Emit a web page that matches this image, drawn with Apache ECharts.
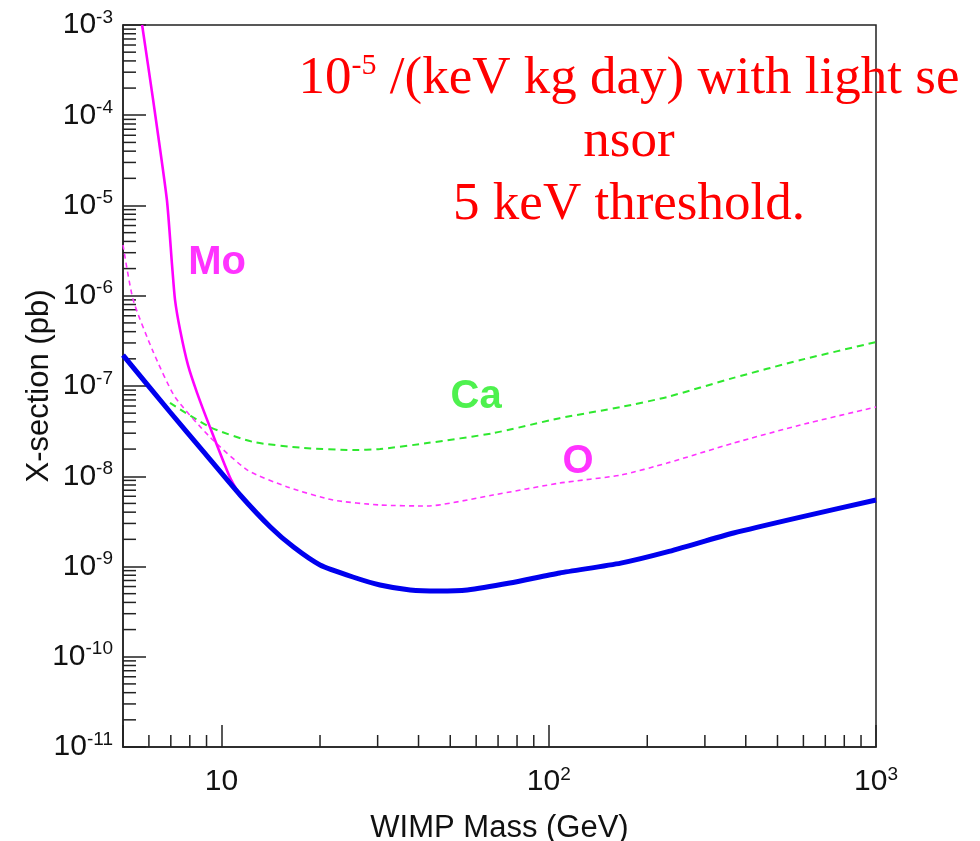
<!DOCTYPE html>
<html>
<head>
<meta charset="utf-8">
<script src="https://cdn.jsdelivr.net/npm/echarts@6/dist/echarts.min.js"></script>
<style>html,body{margin:0;padding:0;background:#fff}#c{width:980px;height:841px}</style>
</head>
<body>
<div id="c"></div>
<script>
// ---- data (WIMP mass in GeV, cross-section in pb) ----
const combinedMass = [5, 6.96, 8.78, 11.4, 14.1, 16.6, 20, 25.2, 30.5, 37.7, 46, 56.4, 76, 108, 166, 230, 367, 588, 1000];
const combinedXsec = [2.2e-7, 5.15e-8, 1.9e-8, 6.2e-9, 2.74e-9, 1.64e-9, 1.04e-9, 7.65e-10, 6.24e-10, 5.5e-10, 5.35e-10, 5.5e-10, 6.56e-10, 8.47e-10, 1.09e-9, 1.45e-9, 2.35e-9, 3.53e-9, 5.45e-9];

const moMass = [5.72, 6.18, 6.81, 7.06, 7.21, 7.47, 7.9, 8.42, 9.22, 10.6, 11.4, 14.1, 16.6, 20, 25.2, 30.5, 37.7, 46, 56.4, 76, 108, 166, 230, 367, 588, 1000];
const moXsec = [1e-3, 1.48e-4, 1.15e-5, 2.2e-6, 9e-7, 4.2e-7, 1.7e-7, 8.4e-8, 3.5e-8, 9.8e-9, 6.2e-9, 2.74e-9, 1.64e-9, 1.04e-9, 7.65e-10, 6.24e-10, 5.5e-10, 5.35e-10, 5.5e-10, 6.56e-10, 8.47e-10, 1.09e-9, 1.45e-9, 2.35e-9, 3.53e-9, 5.45e-9];

const oMass = [5, 5.37, 6.18, 7.21, 9.22, 12, 15.9, 21.9, 30.5, 42.5, 67.6, 108, 166, 230, 367, 588, 1000];
const oXsec = [3.65e-6, 9e-7, 2.4e-7, 7.55e-8, 2.72e-8, 1.17e-8, 7.6e-9, 5.45e-9, 4.8e-9, 4.68e-9, 6.2e-9, 8.4e-9, 1.03e-8, 1.4e-8, 2.33e-8, 3.7e-8, 5.85e-8];

const caMass = [6.96, 9.22, 12.5, 17.8, 25.2, 30.5, 42.5, 67.6, 108, 166, 230, 367, 588, 1000];
const caXsec = [6.5e-8, 3.5e-8, 2.4e-8, 2.06e-8, 1.95e-8, 2.0e-8, 2.33e-8, 3.0e-8, 4.4e-8, 5.85e-8, 7.55e-8, 1.23e-7, 1.94e-7, 3.07e-7];

// curve labels: [mass, xsec, text]
const curveLabels = [[9.7, 2.31e-6, 'Mo'], [60, 7.55e-8, 'Ca'], [123, 1.44e-8, 'O']];
const curveLabelColors = ['#ff00ff', '#22ee22', '#ff00ff'];

// axes
const xMin = 5, xMax = 1000;
const yMin = 1e-11, yMax = 1e-3;
const minorMultipliers = [2, 3, 4, 5, 6, 7, 8, 9];
const xMinorDecades = [1, 10, 100];
const yMinorDecades = [1e-11, 1e-10, 1e-9, 1e-8, 1e-7, 1e-6, 1e-5, 1e-4];

const xTitle = 'WIMP Mass (GeV)';
const yTitle = 'X-section (pb)';
const noteLine1 = ['10', '-5', ' /(keV kg day) with light se'];
const noteLine2 = 'nsor';
const noteLine3 = '5 keV threshold.';

// ---- build ----
const zip = (a, b) => a.map((v, i) => [v, b[i]]);
const xMinorVals = [];
xMinorDecades.forEach(d => minorMultipliers.forEach(m => { const v = m * d; if (v > xMin && v < xMax) xMinorVals.push([v, yMin]); }));
const yMinorVals = [];
yMinorDecades.forEach(d => minorMultipliers.forEach(m => { const v = m * d; if (v > yMin && v < yMax) yMinorVals.push([xMin, v]); }));

const SANS = "'Liberation Sans', Arial, sans-serif";
const SERIF = "'Liberation Serif', 'Times New Roman', serif";
const INK = '#222';
const labelRich = {
  b: { fontSize: 30, lineHeight: 40, fontFamily: SANS, color: '#111' },
  s: { fontSize: 19, lineHeight: 20, fontFamily: SANS, color: '#111', padding: [0, 0, 15, 0] }
};
function expOf(v) { return Math.round(Math.log10(v)); }
function isDecade(v) { return Math.abs(Math.log10(v) - expOf(v)) < 0.01; }

const chart = echarts.init(document.getElementById('c'), null, { renderer: 'canvas' });
const tickStyle = { stroke: INK, lineWidth: 1.5 };

chart.setOption({
  animation: false,
  backgroundColor: '#fff',
  grid: { left: 123, right: 104, top: 25, bottom: 94, show: true, borderColor: INK, borderWidth: 1.5, backgroundColor: 'transparent', outerBoundsMode: 'none', containLabel: false },
  xAxis: {
    type: 'log', logBase: 10, min: xMin, max: xMax,
    axisLine: { show: true, lineStyle: { color: INK, width: 1.5 } },
    axisTick: { show: true, inside: true, length: 22, lineStyle: { color: INK, width: 1.5 } },
    splitLine: { show: false },
    axisLabel: {
      margin: 15,
      formatter: v => { if (!isDecade(v)) return ''; const e = expOf(v); return e === 1 ? '{b|10}' : '{b|10}{s|' + e + '}'; },
      rich: labelRich
    },
    name: xTitle, nameLocation: 'middle', nameGap: 66, nameMoveOverlap: false,
    nameTextStyle: { fontSize: 31, fontFamily: SANS, color: '#111' }
  },
  yAxis: {
    type: 'log', logBase: 10, min: yMin, max: yMax, interval: 1,
    axisLine: { show: true, lineStyle: { color: INK, width: 1.5 } },
    axisTick: { show: true, inside: true, length: 23, lineStyle: { color: INK, width: 1.5 } },
    splitLine: { show: false },
    axisLabel: {
      margin: 10,
      formatter: v => '{b|10}{s|' + expOf(v) + '}',
      rich: labelRich
    },
    name: yTitle, nameLocation: 'middle', nameGap: 68, nameRotate: 90, nameMoveOverlap: false,
    nameTextStyle: { fontSize: 31, fontFamily: SANS, color: '#111' }
  },
  graphic: [
    { type: 'text', x: 629, y: 79, silent: true,
      style: { text: '{a|' + noteLine1[0] + '}{s|' + noteLine1[1] + '}{a|' + noteLine1[2] + '}', align: 'center', verticalAlign: 'middle',
        fill: '#ff0000', fontSize: 53, fontFamily: SERIF,
        rich: { a: { fontSize: 53, lineHeight: 63, fontFamily: SERIF, fill: '#ff0000' },
                s: { fontSize: 30, lineHeight: 30, fontFamily: SERIF, fill: '#ff0000', padding: [0, 0, 26, 0] } } } },
    { type: 'text', x: 629, y: 142, silent: true,
      style: { text: noteLine2, align: 'center', verticalAlign: 'middle', fill: '#ff0000', fontSize: 53, fontFamily: SERIF } },
    { type: 'text', x: 629, y: 205, silent: true,
      style: { text: noteLine3, align: 'center', verticalAlign: 'middle', fill: '#ff0000', fontSize: 53, fontFamily: SERIF } }
  ],
  series: [
    { type: 'custom', name: 'xminor', silent: true, clip: false, data: xMinorVals,
      renderItem: (p, api) => { const c = api.coord([api.value(0), api.value(1)]);
        return { type: 'line', shape: { x1: c[0], y1: c[1], x2: c[0], y2: c[1] - 12 }, style: tickStyle }; } },
    { type: 'custom', name: 'yminor', silent: true, clip: false, data: yMinorVals,
      renderItem: (p, api) => { const c = api.coord([api.value(0), api.value(1)]);
        return { type: 'line', shape: { x1: c[0], y1: c[1], x2: c[0] + 13, y2: c[1] }, style: tickStyle }; } },
    { type: 'line', name: 'Ca', data: zip(caMass, caXsec), showSymbol: false, smooth: 0.2, z: 2,
      lineStyle: { color: '#2ee82e', width: 2, type: [7, 5] } },
    { type: 'line', name: 'O', data: zip(oMass, oXsec), showSymbol: false, smooth: 0.2, z: 2,
      lineStyle: { color: '#ff33ff', width: 1.6, type: [5, 4] } },
    { type: 'line', name: 'Mo', data: zip(moMass, moXsec), showSymbol: false, smooth: 0.2, z: 3,
      lineStyle: { color: '#ff00ff', width: 2.6 } },
    { type: 'line', name: 'Combined', data: zip(combinedMass, combinedXsec), showSymbol: false, smooth: 0.2, z: 4,
      lineStyle: { color: '#0000ee', width: 5 } },
    { type: 'scatter', name: 'labels', silent: true, z: 5, symbolSize: 0,
      data: curveLabels.map((d, i) => ({ value: [d[0], d[1]], name: d[2],
        label: { show: true, position: 'inside', formatter: d[2], color: curveLabelColors[i], fontSize: 40, fontWeight: 'bold', fontFamily: SANS } })) }
  ]
});
</script>
</body>
</html>
